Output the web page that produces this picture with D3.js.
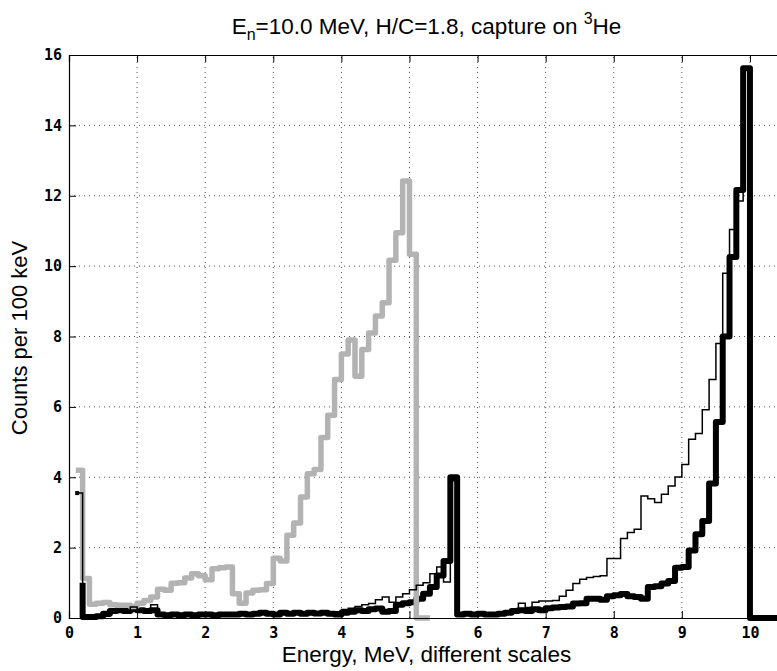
<!DOCTYPE html>
<html>
<head>
<meta charset="utf-8">
<script src="https://cdn.jsdelivr.net/npm/d3@7"></script>
<style>
  body { margin: 0; background: #fff; }
  .tick-label { font-family: "DejaVu Sans Mono", monospace; font-weight: bold; font-size: 15px; }
  .axis-label, .title { font-family: "Liberation Sans", Arial, sans-serif; }
</style>
</head>
<body>
<div id="chart-area"></div>
<script>
// bins are 0.1 MeV wide
const binWidth = 0.1;
const xTicks = [0, 1, 2, 3, 4, 5, 6, 7, 8, 9, 10];
const yTicks = [0, 2, 4, 6, 8, 10, 12, 14, 16];

// grey thick histogram, first bin starts at 0.1
const greyStart = 0.1;
const greyCounts = [
  4.2, 1.12, 0.39, 0.42, 0.44, 0.38, 0.36, 0.36, 0.33, 0.42,
  0.5, 0.6, 0.82, 0.79, 0.99, 1.0, 1.14, 1.26, 1.2, 1.09,
  1.4, 1.43, 1.45, 0.69, 0.42, 0.71, 0.79, 0.8, 0.98, 1.7,
  1.62, 2.35, 2.7, 3.44, 4.1, 4.22, 5.13, 5.76, 6.78, 7.5,
  7.9, 6.87, 7.63, 8.1, 8.58, 8.96, 10.17, 10.95, 12.42, 10.34,
  0, 0
];

// black thin histogram, first bin starts at 0.1
const thinStart = 0.1;
const thinCounts = [
  3.55, 0.02, 0.02, 0.02, 0.05, 0.15, 0.2, 0.22, 0.31, 0.25,
  0.2, 0.38, 0.08, 0.06, 0.08, 0.06, 0.08, 0.07, 0.08, 0.08,
  0.06, 0.08, 0.08, 0.08, 0.1, 0.08, 0.1, 0.12, 0.1, 0.1,
  0.12, 0.12, 0.15, 0.15, 0.15, 0.18, 0.17, 0.15, 0.18, 0.24,
  0.28, 0.33, 0.38, 0.41, 0.52, 0.6, 0.45, 0.6, 0.69, 0.8,
  0.93, 1.0, 1.26, 1.45, 1.02, 3.9, 0.05, 0.08, 0.08, 0.1,
  0.08, 0.1, 0.12, 0.15, 0.18, 0.42, 0.3, 0.45, 0.48, 0.48,
  0.5, 0.62, 0.79, 0.98, 1.1, 1.15, 1.18, 1.2, 1.69, 1.69,
  2.26, 2.43, 2.52, 3.47, 3.39, 3.28, 3.52, 3.75, 4.01, 4.36,
  5.08, 5.24, 5.92, 6.78, 7.8, 9.8, 11.04, 11.85, 15.6, 0,
  0, 0, 0, 0
];

// black thick histogram, starts at 0.2 coming down from 1.0
const thickStart = 0.2;
const thickLead = 1.0;
const thickCounts = [
  0.03, 0.03, 0.05, 0.12, 0.2, 0.22, 0.2, 0.25, 0.22, 0.2,
  0.22, 0.1, 0.08, 0.1, 0.08, 0.1, 0.08, 0.1, 0.1, 0.08,
  0.1, 0.1, 0.1, 0.12, 0.1, 0.12, 0.15, 0.12, 0.1, 0.15,
  0.12, 0.15, 0.12, 0.15, 0.13, 0.15, 0.12, 0.1, 0.15, 0.18,
  0.22, 0.2, 0.25, 0.27, 0.18, 0.2, 0.38, 0.42, 0.45, 0.55,
  0.69, 0.88, 1.21, 1.62, 4.0, 0.1, 0.12, 0.1, 0.12, 0.1,
  0.1, 0.12, 0.15, 0.2, 0.22, 0.2, 0.25, 0.22, 0.28, 0.3,
  0.31, 0.33, 0.41, 0.42, 0.55, 0.55, 0.52, 0.62, 0.65, 0.68,
  0.62, 0.6, 0.55, 0.88, 0.9, 0.98, 1.05, 1.43, 1.45, 1.92,
  2.38, 2.76, 3.82, 5.57, 8.0, 10.26, 12.16, 15.62, 0, 0,
  0, 0, 0
];

const margin = { left: 69, top: 55 };
const plotSize = { width: 715, height: 563 };

const toSteps = (start, counts, lead) => {
  const pts = counts.map((c, i) => ({ x: +(start + i * binWidth).toFixed(3), y: c }));
  pts.push({ x: +(start + counts.length * binWidth).toFixed(3), y: counts[counts.length - 1] });
  if (lead !== undefined) pts.unshift({ x: start, y: lead });
  return pts;
};

const drawChart = () => {
  const svg = d3.select("#chart-area").append("svg")
    .attr("width", 777).attr("height", 671);

  const x = d3.scaleLinear().domain([0, 10.5])
    .range([margin.left, margin.left + plotSize.width]);
  const y = d3.scaleLinear().domain([0, 16])
    .range([margin.top + plotSize.height, margin.top]);

  const g = svg.append("g");

  // dotted grid
  g.selectAll(".vgrid").data(xTicks.slice(1)).join("line")
    .attr("x1", d => x(d)).attr("x2", d => x(d))
    .attr("y1", y(0)).attr("y2", y(16))
    .attr("stroke", "#555").attr("stroke-dasharray", "1,4");
  g.selectAll(".hgrid").data(yTicks.slice(1, -1)).join("line")
    .attr("x1", x(0)).attr("x2", x(10.5))
    .attr("y1", d => y(d)).attr("y2", d => y(d))
    .attr("stroke", "#555").attr("stroke-dasharray", "1,4");

  const stairs = d3.line().x(d => x(d.x)).y(d => y(d.y)).curve(d3.curveStepAfter);

  g.append("path").attr("class", "thick")
    .attr("d", stairs(toSteps(thickStart, thickCounts, thickLead)))
    .attr("fill", "none").attr("stroke", "#000")
    .attr("stroke-width", 6).attr("stroke-linejoin", "round");

  g.append("path").attr("class", "grey")
    .attr("d", stairs(toSteps(greyStart, greyCounts)))
    .attr("fill", "none").attr("stroke", "#b3b3b3")
    .attr("stroke-width", 5.5).attr("stroke-linejoin", "round");

  g.append("path").attr("class", "thin")
    .attr("d", stairs(toSteps(thinStart, thinCounts)))
    .attr("fill", "none").attr("stroke", "#000")
    .attr("stroke-width", 1.5);

  // marker at the start of the thin histogram
  g.append("rect")
    .attr("x", x(thinStart + 0.02) - 2).attr("y", y(thinCounts[0]) - 2)
    .attr("width", 4).attr("height", 4).attr("fill", "#000");

  // axes: bottom, top, left with inward ticks
  const bottom = svg.append("g").attr("transform", `translate(0,${y(0)})`)
    .call(d3.axisBottom(x).tickValues(xTicks).tickSize(-7).tickPadding(9).tickFormat(d3.format("d")));
  const top = svg.append("g").attr("transform", `translate(0,${y(16)})`)
    .call(d3.axisTop(x).tickValues(xTicks).tickSize(-7).tickFormat(""));
  const left = svg.append("g").attr("transform", `translate(${x(0)},0)`)
    .call(d3.axisLeft(y).tickValues(yTicks).tickSize(-7).tickPadding(7).tickFormat(d3.format("d")));

  [bottom, top, left].forEach(a => {
    a.select(".domain").attr("stroke", "#000").attr("stroke-width", 1.2);
    a.selectAll(".tick line").attr("stroke", "#000");
    a.selectAll(".tick text").attr("class", "tick-label").attr("fill", "#000");
  });

  // title with subscript and superscript
  const title = svg.append("text").attr("class", "title")
    .attr("x", x(5.25)).attr("y", 34).attr("text-anchor", "middle")
    .attr("font-size", 22.5);
  title.append("tspan").text("E");
  title.append("tspan").attr("font-size", 16).attr("dy", 6).text("n");
  title.append("tspan").attr("dy", -6).text("=10.0 MeV, H/C=1.8, capture on ");
  title.append("tspan").attr("font-size", 16).attr("dy", -10).text("3");
  title.append("tspan").attr("dy", 10).text("He");

  svg.append("text").attr("class", "axis-label")
    .attr("x", x(5.25)).attr("y", 662).attr("text-anchor", "middle")
    .attr("font-size", 22.5).text("Energy, MeV, different scales");

  svg.append("text").attr("class", "axis-label")
    .attr("transform", "rotate(-90)")
    .attr("x", -338).attr("y", 27).attr("text-anchor", "middle")
    .attr("font-size", 22).text("Counts per 100 keV");
};

window.onload = drawChart;
</script>
</body>
</html>
